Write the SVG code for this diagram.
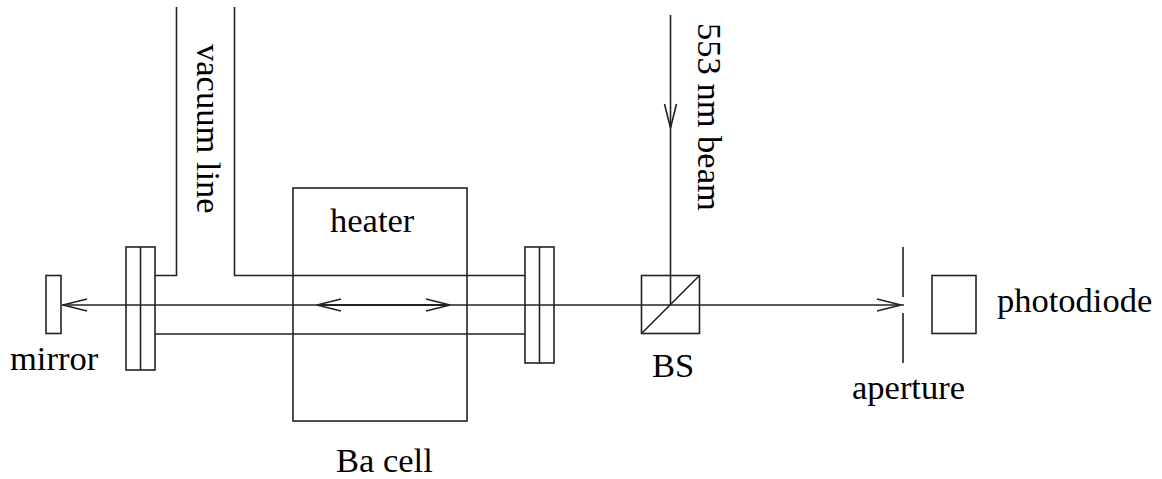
<svg xmlns="http://www.w3.org/2000/svg" width="1162" height="479" viewBox="0 0 1162 479">
<style>
.l{fill:none;stroke:#222;stroke-width:1.6}
.t{font-family:"Liberation Serif","Times New Roman",serif;font-size:34.500px;fill:#000}
</style>
<rect width="1162" height="479" fill="#fff"/>
<g id="connectors" class="l">
<path d="M62 305H904"/>
<path d="M87 299L63 305L87 311"/>
<path d="M670.500 15V305"/>
<path d="M664.500 104L670.500 128L676.500 104"/>
<path d="M341 299L317 305L341 311"/>
<path d="M426 299L450 305L426 311"/>
<path d="M317 305H450" stroke-width="2"/>
<path d="M877 299L901 305L877 311"/>
</g>
<g id="vacuum-tube" class="l">
<path d="M155 275.500H176.500V7"/>
<path d="M234.500 7V275.500H525"/>
<path d="M155 334H525"/>
</g>
<g id="mirror" class="l"><rect x="46" y="275.500" width="15" height="58"/></g>
<g id="flange-left" class="l"><rect x="126" y="247" width="29" height="123"/><path d="M140.500 247V370"/></g>
<g id="heater" class="l"><rect x="293" y="188" width="174" height="233"/></g>
<g id="flange-right" class="l"><rect x="525" y="247" width="29" height="116"/><path d="M539.500 247V363"/></g>
<g id="beam-splitter" class="l"><rect x="641.500" y="275.500" width="58" height="58"/><path d="M641.500 333.500L699.500 275.500"/></g>
<g id="aperture" class="l"><path d="M903 247V297M903 313V363"/></g>
<g id="photodiode" class="l"><rect x="932" y="275.500" width="44" height="58"/></g>
<g id="labels">
<text class="t" x="10" y="370">mirror</text>
<text class="t" x="330" y="232">heater</text>
<text class="t" x="336" y="472">Ba cell</text>
<text class="t" x="652" y="377">BS</text>
<text class="t" x="852" y="399">aperture</text>
<text class="t" x="997" y="312">photodiode</text>
<text class="t" transform="translate(197 44) rotate(90)">vacuum line</text>
<text class="t" transform="translate(698 23) rotate(90)">553 nm beam</text>
</g>
</svg>
